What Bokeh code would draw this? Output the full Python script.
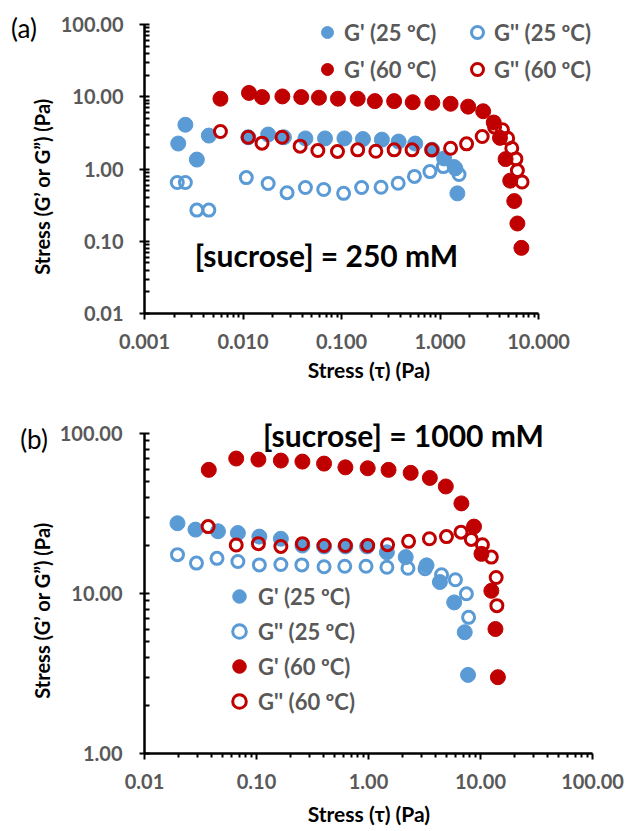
import math
from bokeh.plotting import figure
from bokeh.models import FixedTicker, PrintfTickFormatter, Range1d, Label, Legend, LegendItem
from bokeh.layouts import column, row
from bokeh.embed import file_html
from bokeh.resources import INLINE

# ---------------- Panel (a): [sucrose] = 250 mM ----------------
a_gp25_x = [0.0022, 0.0026, 0.0034, 0.0045, 0.0113, 0.018, 0.026, 0.043, 0.068, 0.107, 0.165,
            0.257, 0.38, 0.56, 0.83, 1.10, 1.43, 1.50]
a_gp25_y = [2.25, 4.1, 1.35, 2.9, 2.75, 3.0, 2.75, 2.65, 2.65, 2.65, 2.6,
            2.55, 2.4, 2.25, 1.85, 1.4, 1.02, 0.46]
a_gpp25_x = [0.00215, 0.0026, 0.0034, 0.0045, 0.0108, 0.018, 0.028, 0.043, 0.066, 0.105, 0.16,
             0.252, 0.376, 0.55, 0.79, 1.08, 1.39, 1.56]
a_gpp25_y = [0.65, 0.65, 0.27, 0.27, 0.76, 0.63, 0.47, 0.555, 0.52, 0.46, 0.555,
             0.56, 0.635, 0.79, 0.92, 1.08, 1.08, 0.84]
a_gp60_x = [0.0059, 0.0115, 0.0156, 0.0251, 0.039, 0.059, 0.092, 0.146, 0.218, 0.342, 0.528,
            0.836, 1.28, 1.93, 2.74, 3.51, 4.06, 4.63, 5.16, 5.67, 6.1, 6.7]
a_gp60_y = [9.4, 11.3, 9.9, 10.1, 9.9, 9.7, 9.4, 9.4, 8.7, 8.7, 8.4,
            8.25, 8.0, 7.3, 6.3, 4.4, 2.7, 1.37, 0.69, 0.36, 0.176, 0.081]
a_gpp60_x = [0.0059, 0.0113, 0.0156, 0.0249, 0.038, 0.0575, 0.091, 0.146, 0.223, 0.342, 0.52,
             0.825, 1.28, 1.86, 2.68, 3.58, 4.3, 4.86, 5.35, 5.89, 6.1, 6.8]
a_gpp60_y = [3.3, 2.75, 2.28, 2.75, 2.07, 1.8, 1.75, 1.84, 1.76, 1.84, 1.84,
             1.84, 1.94, 2.23, 2.82, 3.8, 3.5, 2.67, 1.94, 1.38, 0.95, 0.66]
a_xticks = [0.001, 0.01, 0.1, 1, 10]
a_yticks = [0.01, 0.1, 1, 10, 100]

# ---------------- Panel (b): [sucrose] = 1000 mM ----------------
b_gp25_x = [0.0197, 0.0285, 0.0453, 0.0682, 0.106, 0.165, 0.257, 0.401, 0.622, 0.971, 1.46,
            2.15, 3.30, 4.34, 5.82, 7.23, 7.74]
b_gp25_y = [27.5, 25.1, 24.5, 23.9, 22.7, 22.0, 19.95, 19.7, 19.7, 19.7, 18.1,
            16.9, 15.0, 11.8, 8.8, 5.73, 3.1]
b_gpp25_x = [0.0197, 0.0291, 0.0444, 0.0682, 0.106, 0.165, 0.254, 0.401, 0.614, 0.95, 1.46,
             2.25, 3.2, 4.49, 5.97, 7.48, 7.83]
b_gpp25_y = [17.5, 15.5, 16.6, 15.85, 15.1, 15.2, 15.1, 14.7, 14.8, 14.8, 14.6,
             14.4, 14.3, 13.1, 12.2, 9.96, 7.1]
b_gp60_x = [0.0375, 0.0659, 0.104, 0.165, 0.257, 0.401, 0.622, 0.984, 1.51, 2.38, 3.53,
            4.90, 6.75, 8.75, 10.2, 12.5, 13.6, 14.3]
b_gp60_y = [59.3, 69.8, 68.8, 67.8, 66.8, 64.9, 61.5, 60.7, 59.3, 56.8, 52.8,
            46.7, 36.6, 26.2, 17.7, 10.4, 6.0, 3.0]
b_gpp60_x = [0.037, 0.0659, 0.104, 0.165, 0.257, 0.401, 0.622, 0.984, 1.48, 2.28, 3.5,
             4.97, 6.7, 8.28, 10.4, 12.5, 13.8, 14.0]
b_gpp60_y = [26.2, 20.1, 20.5, 19.7, 20.5, 19.95, 19.95, 19.95, 20.2, 21.2, 22.0,
             22.7, 24.2, 21.8, 20.2, 16.9, 12.6, 8.4]
b_xticks = [0.01, 0.1, 1, 10, 100]
b_yticks = [1, 10, 100]

labels = ["G' (25 ºC)", "G'' (25 ºC)", "G' (60 ºC)", "G'' (60 ºC)"]
y_title = "Stress (G’ or G”) (Pa)"
x_title = "Stress (τ) (Pa)"
BLUE = "#5B9BD5"
RED = "#C00000"
GREY = "#595959"
FONT = "Lato"


def minors(ticks):
    out = []
    for t in ticks[:-1]:
        out += [t * m for m in range(2, 10)]
    return out


def style(p, xticks, yticks, xfmt, yfmt, ystandoff, xstandoff, tstandoff):
    p.xaxis.ticker = FixedTicker(ticks=xticks, minor_ticks=minors(xticks))
    p.yaxis.ticker = FixedTicker(ticks=yticks, minor_ticks=minors(yticks))
    p.xaxis.formatter = PrintfTickFormatter(format=xfmt)
    p.yaxis.formatter = PrintfTickFormatter(format=yfmt)
    p.xaxis.bounds = (xticks[0], xticks[-1])
    p.yaxis.bounds = (yticks[0], yticks[-1])
    p.grid.visible = False
    p.outline_line_color = None
    for ax in (p.xaxis, p.yaxis):
        ax.axis_line_color = "black"
        ax.axis_line_width = 2.5
        ax.major_tick_line_color = "black"
        ax.minor_tick_line_color = "black"
        ax.major_tick_line_width = 2
        ax.minor_tick_line_width = 2
        ax.major_label_text_font = FONT
        ax.major_label_text_font_style = "bold"
        ax.major_label_text_color = GREY
        ax.major_label_text_font_size = "20px"
        ax.axis_label_text_font = FONT
        ax.axis_label_text_font_style = "bold"
        ax.axis_label_text_color = "black"
        ax.axis_label_text_font_size = "21px"
    p.xaxis.major_tick_in = 0
    p.xaxis.major_tick_out = 6
    p.xaxis.minor_tick_in = 0
    p.xaxis.minor_tick_out = 4
    p.yaxis.major_tick_in = 5
    p.yaxis.major_tick_out = 5
    p.yaxis.minor_tick_in = 5
    p.yaxis.minor_tick_out = 0
    p.xaxis.major_label_standoff = xstandoff
    p.yaxis.major_label_standoff = ystandoff
    p.xaxis.axis_label = x_title
    p.xaxis.axis_label_standoff = tstandoff


def add_series(p, xs, ys, size):
    rs = []
    for x, y, col, filled in zip(xs, ys, [BLUE, BLUE, RED, RED], [True, False, True, False]):
        if filled:
            r = p.scatter(x, y, marker="circle", size=size, fill_color=col, line_color=col, line_width=1)
        else:
            r = p.scatter(x, y, marker="circle", size=size - 3, fill_alpha=0, line_color=col, line_width=3)
        rs.append(r)
    return rs


def make_legend(items, x, y, glyph, spacing):
    return Legend(items=items, location=(x, y), orientation="vertical",
                  glyph_width=glyph, glyph_height=glyph, spacing=spacing, padding=0, margin=0,
                  label_standoff=2, label_text_font=FONT, label_text_font_style="bold",
                  label_text_color=GREY, label_text_font_size="22px",
                  background_fill_alpha=0, border_line_alpha=0)


STRIP = 56

# ---- left strip: panel letters and y-axis titles
pl = figure(width=STRIP, height=831, x_range=Range1d(0, 1), y_range=Range1d(0, 1),
            output_backend="svg", toolbar_location=None, min_border=0,
            x_axis_location=None, y_axis_location=None)
pl.outline_line_color = None
pl.grid.visible = False
for txt, x, y, size, style_, ang in [("(a)", 23.5, 804, "26px", "normal", 0),
                                     ("(b)", 33.5, 393, "26px", "normal", 0),
                                     (y_title, 41, 645, "20px", "bold", math.pi / 2),
                                     (y_title, 41, 221, "20px", "bold", math.pi / 2)]:
    pl.add_layout(Label(x=x, y=y, x_units="screen", y_units="screen", text=txt, angle=ang,
                        text_font=FONT, text_font_size=size, text_font_style=style_,
                        text_align="center", text_baseline="middle", text_color="black"))

# ---- figure (a)  (view range extended right so the legend is not clipped; axis bounded at 10)
pa = figure(width=629 - STRIP, height=399, x_axis_type="log", y_axis_type="log",
            x_range=Range1d(0.001, 35.3), y_range=Range1d(0.01, 146.6),
            output_backend="svg", toolbar_location=None,
            min_border_left=144 - STRIP, min_border_right=4, min_border_top=12, min_border_bottom=86)
style(pa, a_xticks, a_yticks, "%.3f", "%.2f", 16, 14, 5)
ra = add_series(pa, [a_gp25_x, a_gpp25_x, a_gp60_x, a_gpp60_x],
                [a_gp25_y, a_gpp25_y, a_gp60_y, a_gpp60_y], 15)
pa.add_layout(make_legend([LegendItem(label=labels[0], renderers=[ra[0]]),
                           LegendItem(label=labels[2], renderers=[ra[2]])], 168, 229, 30, 7))
pa.add_layout(make_legend([LegendItem(label=labels[1], renderers=[ra[1]]),
                           LegendItem(label=labels[3], renderers=[ra[3]])], 318, 229, 30, 7))
pa.add_layout(Label(x=182, y=59, x_units="screen", y_units="screen", text="[sucrose] = 250 mM",
                    text_font=FONT, text_font_style="bold", text_font_size="30px",
                    text_align="center", text_baseline="middle", text_color="black"))

# ---- figure (b)
pb = figure(width=629 - STRIP, height=432, x_axis_type="log", y_axis_type="log",
            x_range=Range1d(0.01, 100), y_range=Range1d(1, 129.7),
            output_backend="svg", toolbar_location=None,
            min_border_left=141 - STRIP, min_border_right=37, min_border_top=16, min_border_bottom=78)
style(pb, b_xticks, b_yticks, "%.2f", "%.2f", 17, 14, 9)
rb = add_series(pb, [b_gp25_x, b_gpp25_x, b_gp60_x, b_gpp60_x],
                [b_gp25_y, b_gpp25_y, b_gp60_y, b_gpp60_y], 15)
pb.add_layout(make_legend([LegendItem(label=labels[i], renderers=[rb[i]]) for i in range(4)],
                          78, 35, 34, 1))
pb.add_layout(Label(x=259, y=319, x_units="screen", y_units="screen", text="[sucrose] = 1000 mM",
                    text_font=FONT, text_font_style="bold", text_font_size="30px",
                    text_align="center", text_baseline="middle", text_color="black"))

layout = row(pl, column(pa, pb))
open("out.html", "w").write(file_html(layout, INLINE))
